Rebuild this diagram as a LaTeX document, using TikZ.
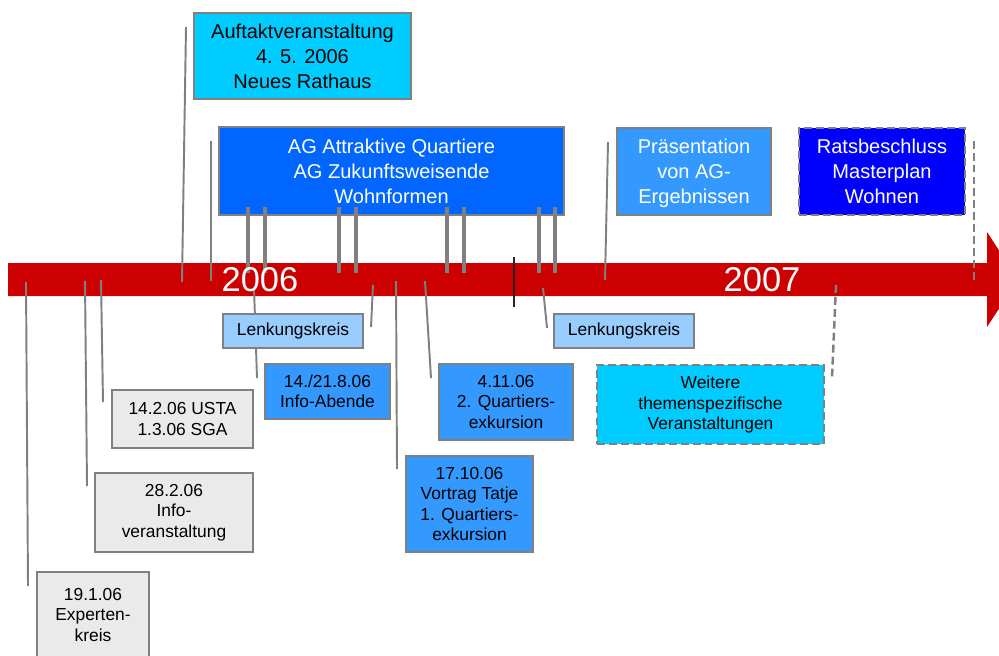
\documentclass[tikz,border=0pt]{standalone}
\usepackage{fontspec}
\setmainfont{Liberation Sans}
\definecolor{barred}{HTML}{CC0000}
\definecolor{cyanbox}{HTML}{00CCFF}
\definecolor{agblue}{HTML}{0066FF}
\definecolor{midblue}{HTML}{3399FF}
\definecolor{deepblue}{HTML}{0000FF}
\definecolor{lightblue}{HTML}{99CCFF}
\definecolor{palegray}{HTML}{EAEAEA}
\definecolor{rimgray}{HTML}{808080}

\begin{document}
\begin{tikzpicture}[x=0.02cm, y=-0.02cm,
	box/.style={draw=rimgray, line width=1.5pt, align=center, inner sep=0pt},
	big/.style={font=\fontsize{11.4}{14.2}\selectfont},
	small/.style={font=\fontsize{9.9}{11.6}\selectfont},
	stem/.style={rimgray, line width=1.1pt},
	fork/.style={rimgray, line width=2pt},
	dashy/.style={dash pattern=on 4.5pt off 2.3pt}]
	\useasboundingbox (0,0) rectangle (999,655);
	\clip (0,0) rectangle (999,655);
	% time bar
	\fill[barred] (8,263) -- (987,263) -- (987,232) -- (1018,279.5) -- (987,327) -- (987,296) -- (8,296) -- cycle;
	% stems above the bar
	\coordinate (auftakt-end) at (186,27);  \coordinate (auftakt-bar) at (182,282);
	\coordinate (ag-end) at (211,141);      \coordinate (ag-bar) at (211,281);
	\coordinate (praes-end) at (608,142);   \coordinate (praes-bar) at (605,280);
	\coordinate (rats-end) at (974,140);    \coordinate (rats-bar) at (974,280);
	\coordinate (mark-top) at (514,257);    \coordinate (mark-bot) at (514,307);
	% stems below the bar
	\coordinate (exp-bar) at (26,282);      \coordinate (exp-end) at (28,586);
	\coordinate (infov-bar) at (85,281);    \coordinate (infov-end) at (87,486);
	\coordinate (usta-bar) at (101,280);    \coordinate (usta-end) at (103,402);
	\coordinate (abende-bar) at (254,288);  \coordinate (abende-end) at (257,378);
	\coordinate (lk1-bar) at (373,285);     \coordinate (lk1-end) at (371,327);
	\coordinate (tatje-bar) at (396,281);   \coordinate (tatje-end) at (397,469);
	\coordinate (q2-bar) at (425,281);      \coordinate (q2-end) at (431,378);
	\coordinate (lk2-bar) at (543,288);     \coordinate (lk2-end) at (547,328);
	\coordinate (weitere-bar) at (836,285); \coordinate (weitere-end) at (832,378);
	\foreach \n in {auftakt,ag,praes,exp,infov,usta,abende,lk1,tatje,q2,lk2} {\draw[stem] (\n-bar) -- (\n-end);}
	\draw[stem, line width=1.4pt, dashy] (rats-bar) -- (rats-end);
	\draw[stem, line width=1.4pt, dashy] (weitere-bar) -- (weitere-end);
	\draw[black!85, line width=0.7pt] (mark-top) -- (mark-bot);
	% boxes
	\node[box, big, fill=cyanbox, minimum width=4.34cm, minimum height=1.72cm] (auftakt) at (302.5,56) {Auftaktveranstaltung\\4. 5. 2006\\Neues Rathaus};
	\node[box, big, fill=agblue, text=white, minimum width=6.9cm, minimum height=1.76cm] (ag) at (391.5,171) {AG Attraktive Quartiere\\AG Zukunftsweisende\\Wohnformen};
	\node[box, big, fill=midblue, text=white, minimum width=3.08cm, minimum height=1.74cm] (praes) at (694,171.5) {\strut Präsentation\\von AG-\\Ergebnissen};
	\node[box, big, dashy, fill=deepblue, text=white, minimum width=3.32cm, minimum height=1.74cm] (rats) at (882,171.5) {Ratsbeschluss\\Masterplan\\Wohnen};
	\node[box, small, fill=lightblue, minimum width=2.8cm, minimum height=0.68cm] (lk1) at (293,331) {Lenkungskreis};
	\node[box, small, fill=lightblue, minimum width=2.8cm, minimum height=0.68cm] (lk2) at (624,331) {Lenkungskreis};
	\node[box, small, fill=midblue, minimum width=2.5cm, minimum height=1.1cm] (abende) at (327.5,391.5) {14./21.8.06\\Info-Abende};
	\node[box, small, fill=palegray, minimum width=2.82cm, minimum height=1.16cm] (usta) at (182.5,419) {14.2.06 USTA\\1.3.06 SGA};
	\node[box, small, fill=palegray, minimum width=3.16cm, minimum height=1.58cm] (infov) at (174,512.5) {28.2.06\\Info-\\veranstaltung};
	\node[box, small, fill=palegray, minimum width=2.24cm, minimum height=1.72cm] (exp) at (93,615) {19.1.06\\Experten-\\kreis};
	\node[box, small, fill=midblue, minimum width=2.68cm, minimum height=1.52cm] (q2) at (506,402) {4.11.06\\2. Quartiers-\\exkursion};
	\node[box, small, fill=midblue, minimum width=2.54cm, minimum height=1.92cm] (tatje) at (469.5,504) {17.10.06\\Vortrag Tatje\\1. Quartiers-\\exkursion};
	\node[box, small, dashy, fill=cyanbox, minimum width=4.54cm, minimum height=1.58cm] (weitere) at (710.5,404.5) {Weitere\\themenspezifische\\Veranstaltungen};
	% AG meetings
	\foreach \x [count=\i] in {248,265,339,356,447,464,539,555} {\coordinate (fork\i) at (\x,207); \draw[fork] (fork\i) -- ++(0,66);}
	% years
	\node[text=white, font=\fontsize{19.6}{20}\selectfont] (y2006) at (260,279.5) {2006};
	\node[text=white, font=\fontsize{19.6}{20}\selectfont] (y2007) at (762,279.5) {2007};
\end{tikzpicture}
\end{document}
